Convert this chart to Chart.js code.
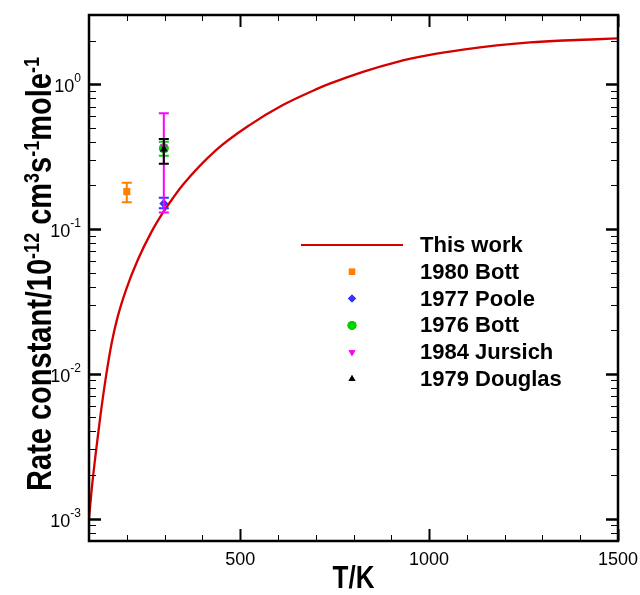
<!DOCTYPE html>
<html>
<head>
<meta charset="utf-8">
<script src="https://cdn.jsdelivr.net/npm/chart.js@4.4.1/dist/chart.umd.min.js"></script>
<style>
body{margin:0;background:#fff;}
#wrap{width:640px;height:595px;}
</style>
</head>
<body>
<div id="wrap"><canvas id="myChart" width="640" height="595"></canvas></div>
<script>
// "This work" curve
const curveT = [100, 107, 119, 130, 145, 160, 176, 198, 229, 265, 296, 322, 348, 437, 525, 613, 702, 737, 825, 914, 1002, 1090, 1179, 1267, 1355, 1444, 1500];
const curveK = [0.00100, 0.00158, 0.00299, 0.00508, 0.00958, 0.0163, 0.0248, 0.038, 0.061, 0.095, 0.13, 0.163, 0.201, 0.351, 0.521, 0.717, 0.923, 1.007, 1.216, 1.42, 1.59, 1.73, 1.85, 1.94, 2.00, 2.04, 2.07];

// experimental points with error bars
const seriesNames = ['1980 Bott', '1977 Poole', '1976 Bott', '1984 Jursich', '1979 Douglas'];
const seriesT = [200, 298, 298, 298, 298];
const seriesK = [0.181, 0.150, 0.36, 0.37, 0.355];
const errLow = [0.153, 0.139, 0.32, 0.130, 0.282];
const errHigh = [0.208, 0.164, 0.40, 0.628, 0.418];

// axis ticks
const xMajorTicks = [500, 1000, 1500];
const xTickLabels = ['500', '1000', '1500'];
const xMinorTicks = [200, 300, 400, 600, 700, 800, 900, 1100, 1200, 1300, 1400];
const yMajorTicks = [0.001, 0.01, 0.1, 1];
const yTickExponents = ['-3', '-2', '-1', '0'];

// styles
const markerColor = ['#ff8000', '#3333ff', '#00d000', '#ff00ff', '#000000'];
const markerStyle = ['rect', 'rectRot', 'circle', 'triangle', 'triangle'];
const markerRotation = [0, 0, 0, 180, 0];
const markerRadius = [5, 4.5, 5, 4.5, 4.5];
const curveColor = '#d40000';
const FONT = "'Liberation Sans', Arial, Helvetica, sans-serif";
const TITLE_STRETCH = 1.22;   // axis titles are drawn taller than wide, as in the original

function yMinorTicks(){
    const out = [];
    for (let d = 0.0001; d < 10; d *= 10){
        for (let m = 2; m <= 9; m++){
            const v = +(m*d).toPrecision(3);
            if (v >= 7e-4 && v <= 3) out.push(v);
        }
    }
    return out;
}

function drawMarker(ctx, style, rot, r, x, y){
    if (Chart.helpers && Chart.helpers.drawPoint){
        Chart.helpers.drawPoint(ctx, {pointStyle: style, rotation: rot, radius: r, borderWidth: 0}, x, y);
        ctx.fill();
        return;
    }
    ctx.beginPath();
    ctx.arc(x, y, r, 0, Math.PI*2);
    ctx.fill();
}

// text pieces with superscripts, centred on cx
function richWidth(ctx, parts, size, supSize){
    let w = 0;
    parts.forEach(p => {
        ctx.font = 'bold ' + (p.sup ? supSize : size) + 'px ' + FONT;
        w += ctx.measureText(p.t).width;
    });
    return w;
}
function drawRich(ctx, parts, cx, y, size, supSize, lift){
    const w = richWidth(ctx, parts, size, supSize);
    let x = cx - w/2;
    ctx.textAlign = 'left';
    ctx.textBaseline = 'alphabetic';
    parts.forEach(p => {
        ctx.font = 'bold ' + (p.sup ? supSize : size) + 'px ' + FONT;
        ctx.fillText(p.t, x, p.sup ? y - lift : y);
        x += ctx.measureText(p.t).width;
    });
}

const errorBars = {
    id: 'errorBars',
    beforeDatasetDraw(chart, args){
        const i = args.index - 1;
        if (i < 0) return;
        const ctx = chart.ctx;
        const xs = chart.scales.x, ys = chart.scales.y;
        const x = xs.getPixelForValue(seriesT[i]);
        const y1 = ys.getPixelForValue(errLow[i]);
        const y2 = ys.getPixelForValue(errHigh[i]);
        ctx.save();
        ctx.strokeStyle = markerColor[i];
        ctx.lineWidth = 2;
        ctx.beginPath();
        ctx.moveTo(x, y1); ctx.lineTo(x, y2);
        ctx.moveTo(x-5, y1); ctx.lineTo(x+5, y1);
        ctx.moveTo(x-5, y2); ctx.lineTo(x+5, y2);
        ctx.stroke();
        ctx.restore();
    }
};

const frameAndText = {
    id: 'frameAndText',
    afterDraw(chart){
        const ctx = chart.ctx;
        const a = chart.chartArea;
        const xs = chart.scales.x, ys = chart.scales.y;
        ctx.save();
        ctx.strokeStyle = '#000';

        // ticks on all four sides, pointing inwards
        function tickX(v, len, w){
            const x = Math.round(xs.getPixelForValue(v)) + 0.5;
            ctx.lineWidth = w;
            ctx.beginPath();
            ctx.moveTo(x, a.bottom); ctx.lineTo(x, a.bottom - len);
            ctx.moveTo(x, a.top); ctx.lineTo(x, a.top + len);
            ctx.stroke();
        }
        function tickY(v, len, w){
            const y = Math.round(ys.getPixelForValue(v)) + 0.5;
            ctx.lineWidth = w;
            ctx.beginPath();
            ctx.moveTo(a.left, y); ctx.lineTo(a.left + len, y);
            ctx.moveTo(a.right, y); ctx.lineTo(a.right - len, y);
            ctx.stroke();
        }
        xMinorTicks.forEach(v => tickX(v, 6, 1));
        xMajorTicks.forEach(v => tickX(v, 12, 2));
        yMinorTicks().forEach(v => tickY(v, 7, 1));
        yMajorTicks.forEach(v => tickY(v, 12, 2.5));

        ctx.lineWidth = 2.5;
        ctx.strokeRect(a.left, a.top, a.right - a.left, a.bottom - a.top);

        // tick labels
        ctx.fillStyle = '#000';
        ctx.font = '18px ' + FONT;
        ctx.textAlign = 'center';
        ctx.textBaseline = 'middle';
        xMajorTicks.forEach((v, i) => {
            ctx.fillText(xTickLabels[i], xs.getPixelForValue(v), 560);
        });
        yMajorTicks.forEach((v, i) => {
            const y = ys.getPixelForValue(v);
            ctx.font = '12px ' + FONT;
            const ew = ctx.measureText(yTickExponents[i]).width;
            ctx.textAlign = 'right';
            ctx.fillText(yTickExponents[i], 81, y - 5);
            ctx.font = '18px ' + FONT;
            ctx.fillText('10', 81 - ew, y + 3);
        });

        // axis titles
        ctx.save();
        ctx.translate((a.left + a.right)/2, 579);
        ctx.scale(1, TITLE_STRETCH);
        ctx.font = 'bold 26px ' + FONT;
        ctx.textAlign = 'center';
        ctx.textBaseline = 'middle';
        ctx.fillText('T/K', 0, 0);
        ctx.restore();

        ctx.save();
        ctx.translate(51, 274);
        ctx.rotate(-Math.PI/2);
        ctx.scale(1, TITLE_STRETCH);
        drawRich(ctx, [
            {t: 'Rate constant/10'}, {t: '-12', sup: true}, {t: ' cm'}, {t: '3', sup: true},
            {t: 's'}, {t: '-1', sup: true}, {t: 'mole'}, {t: '-1', sup: true}
        ], 0, 0, 29, 18, 10);
        ctx.restore();

        // legend inside the plot
        const rowY = 245, rowH = 26.8;
        ctx.font = 'bold 22px ' + FONT;
        ctx.textAlign = 'left';
        ctx.textBaseline = 'middle';
        ctx.strokeStyle = curveColor;
        ctx.lineWidth = 2.2;
        ctx.beginPath();
        ctx.moveTo(301, rowY); ctx.lineTo(403, rowY);
        ctx.stroke();
        ctx.fillStyle = '#000';
        ctx.fillText('This work', 420, rowY + 1);
        seriesNames.forEach((name, i) => {
            const y = rowY + rowH*(i+1);
            ctx.fillStyle = markerColor[i];
            drawMarker(ctx, markerStyle[i], markerRotation[i], markerRadius[i] - 0.5, 352, y);
            ctx.fillStyle = '#000';
            ctx.font = 'bold 22px ' + FONT;
            ctx.fillText(name, 420, y + 1);
        });
        ctx.restore();
    }
};

const datasets = [{
    label: 'This work',
    data: curveT.map((t, i) => ({x: t, y: curveK[i]})),
    showLine: true,
    borderColor: curveColor,
    borderWidth: 2.3,
    pointRadius: 0,
    cubicInterpolationMode: 'monotone',
    order: 10
}];
seriesNames.forEach((name, i) => {
    datasets.push({
        label: name,
        data: [{x: seriesT[i], y: seriesK[i]}],
        pointStyle: markerStyle[i],
        rotation: markerRotation[i],
        pointRadius: markerRadius[i],
        backgroundColor: markerColor[i],
        borderColor: markerColor[i],
        borderWidth: 0,
        order: 5 - i
    });
});

const canvas = document.querySelector('#myChart');
const myChart = new Chart(canvas, {
    type: 'scatter',
    data: {datasets},
    options: {
        responsive: false,
        animation: false,
        layout: {padding: {left: 89, right: 22, top: 15, bottom: 54}},
        plugins: {legend: {display: false}, tooltip: {enabled: false}},
        scales: {
            x: {type: 'linear', min: 100, max: 1500, display: false},
            y: {type: 'logarithmic', min: 7e-4, max: 3, display: false}
        }
    },
    plugins: [errorBars, frameAndText]
});
</script>
</body>
</html>
